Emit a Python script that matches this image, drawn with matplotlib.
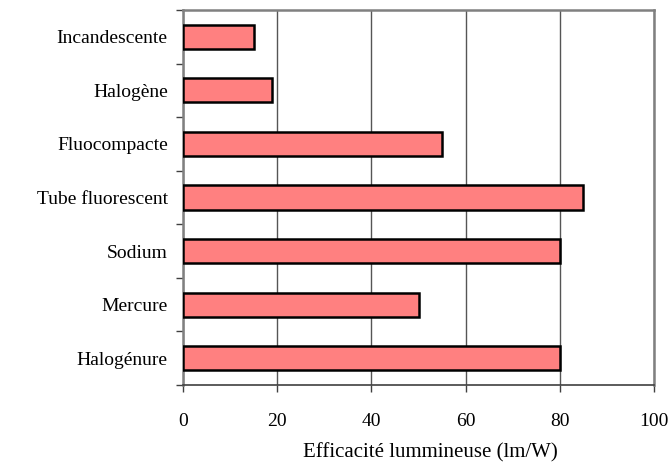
import numpy as np
import matplotlib.pyplot as plt

plt.rcParams['font.family'] = ['Liberation Serif', 'DejaVu Serif']

lamps = ['Incandescente', 'Halogène', 'Fluocompacte', 'Tube fluorescent',
         'Sodium', 'Mercure', 'Halogénure']
efficacite = [15, 19, 55, 85, 80, 50, 80]
xticks = [0, 20, 40, 60, 80, 100]

fig = plt.figure(figsize=(6.68, 4.67), dpi=100)
ax = fig.add_axes([183/668, 1 - 385/467, (654 - 183)/668, (385 - 10)/467])

pos = np.arange(len(lamps))
ax.barh(pos, efficacite, height=0.45, color='#FF8080', edgecolor='black',
        linewidth=1.8, zorder=3)

ax.set_xlim(0, 100)
ax.set_ylim(len(lamps) - 0.5, -0.5)
ax.set_xticks(xticks)
ax.set_yticks(pos)
ax.set_yticklabels(lamps)
ax.set_yticks(np.arange(-0.5, len(lamps), 1), minor=True)
ax.tick_params(axis='y', which='major', length=0, pad=11, labelsize=14)
ax.tick_params(axis='y', which='minor', length=5, width=1, color='#404040')
ax.tick_params(axis='x', length=5, width=1, color='#404040', pad=15, labelsize=14)

ax.xaxis.grid(True, color='#555555', linewidth=1, zorder=0)
for s in ['top', 'right', 'left']:
    ax.spines[s].set_color('#808080')
    ax.spines[s].set_linewidth(1.8)
ax.spines['bottom'].set_color('#404040')
ax.spines['bottom'].set_linewidth(1.2)

ax.set_xlabel('Efficacité lummineuse (lm/W)', fontsize=15)
ax.xaxis.set_label_coords(0.525, -0.155)

fig.savefig('out.png', dpi=100)
